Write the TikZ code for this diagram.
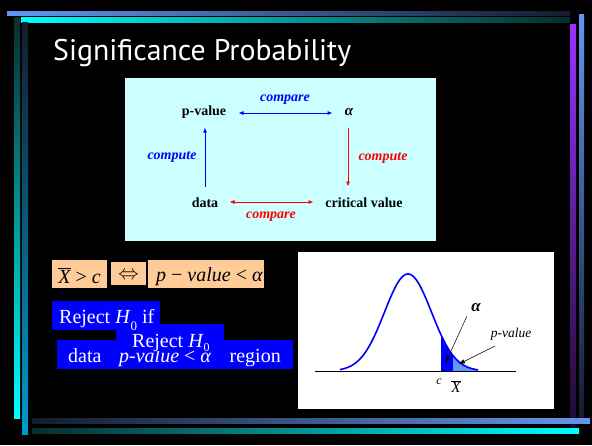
\documentclass[tikz,border=0pt]{standalone}
\usepackage{fontspec}
\setmainfont{Liberation Serif}
\newfontfamily\titlefont{PT Sans}
\usetikzlibrary{arrows.meta}
\definecolor{topblue}{RGB}{100,150,240}
\definecolor{barcyan}{RGB}{0,255,255}
\definecolor{panelcyan}{RGB}{204,255,255}
\definecolor{peach}{RGB}{255,204,153}
\definecolor{purplebar}{RGB}{153,51,255}
\definecolor{deepcyan}{RGB}{0,153,204}
\definecolor{lightfill}{RGB}{100,150,255}
\definecolor{pureblue}{RGB}{0,0,255}
\definecolor{purered}{RGB}{255,0,0}
\definecolor{darkteal}{RGB}{8,45,45}
\definecolor{darknavy}{RGB}{20,28,45}
\definecolor{darkpurple}{RGB}{30,10,45}
\newcommand{\subz}{\raisebox{-4.5pt}{\fontsize{12}{12}\selectfont 0}}
\begin{document}
\begin{tikzpicture}[x=1pt,y=-1pt,
  box/.style={anchor=north west, inner sep=0pt, outer sep=0pt, draw=none},
  lbl/.style={inner sep=0pt, font=\fontsize{14}{14}\selectfont\bfseries, anchor=base},
  cmp/.style={inner sep=0pt, font=\fontsize{14}{14}\selectfont\bfseries\itshape, anchor=base},
  big/.style={inner sep=0pt, font=\fontsize{20}{20}\selectfont, anchor=base},
  tipend/.style={-{Triangle[length=4.5pt,width=3.5pt]}},
  tipboth/.style={{Triangle[length=4.5pt,width=3.5pt]}-{Triangle[length=4.5pt,width=3.5pt]}},
  ptr/.style={-{Triangle[length=6pt,width=4pt]}, line width=0.5pt, black},
  bell/.style={pureblue, line width=1.6pt}
]
\fill[black] (0,0) rectangle (592,445);
\useasboundingbox (0,0) rectangle (592,445);
% decorative bars
\shade[left color=topblue, right color=darknavy] (7,11) rectangle (570,15);
\shade[left color=barcyan, right color=darkteal] (21,17) rectangle (570,22);
\shade[top color=darkteal, bottom color=barcyan] (14,17) rectangle (20,418);
\shade[top color=darknavy, bottom color=deepcyan] (22,22) rectangle (28,434);
\shade[top color=purplebar, bottom color=darkpurple] (570,24) rectangle (576,427);
\shade[top color=topblue, bottom color=darknavy] (579,14) rectangle (584,417);
\shade[left color=darknavy, right color=topblue] (32,418) rectangle (590,423);
\shade[left color=darkteal, right color=barcyan] (32,428) rectangle (579,433);
% title
\node[anchor=base west, inner sep=0pt, text=white] (title) at (53,60)
  {\resizebox{298pt}{!}{\titlefont Significance Probability}};
% cyan panel
\node[box, fill=panelcyan, minimum width=311pt, minimum height=163pt] (panel) at (125,78) {};
\node[lbl] (pv) at (204,115) {p-value};
\node[lbl, font=\fontsize{15}{15}\selectfont\bfseries\itshape] (al) at (349,115) {α};
\node[lbl] (data) at (205,207) {data};
\node[lbl] (cv) at (364,207) {critical value};
\node[cmp, text=pureblue] (cmp1) at (285,101) {compare};
\node[cmp, text=pureblue] (cpt1) at (172,159) {compute};
\node[cmp, text=purered] (cpt2) at (383,160) {compute};
\node[cmp, text=purered] (cmp2) at (271,218) {compare};
\coordinate (h1a) at (239,113);
\coordinate (h1b) at (332,113);
\coordinate (v1a) at (205,187);
\coordinate (v1b) at (205,128);
\coordinate (v2a) at (348,128);
\coordinate (v2b) at (348,186);
\coordinate (h2a) at (230,202);
\coordinate (h2b) at (313,202);
\draw[tipboth, pureblue, line width=0.6pt] (h1a) -- (h1b);
\draw[tipend, pureblue, line width=0.6pt] (v1a) -- (v1b);
\draw[tipend, purered, line width=0.6pt] (v2a) -- (v2b);
\draw[tipboth, purered, line width=0.6pt] (h2a) -- (h2b);
% orange boxes
\node[box, fill=peach, minimum width=55pt, minimum height=28pt] (ob1) at (52,260) {};
\node[box, fill=peach, minimum width=35pt, minimum height=23pt] (ob2) at (111,262) {};
\node[box, fill=peach, minimum width=116pt, minimum height=28pt] (ob3) at (148,260) {};
\node[big] (xgc) at (79.5,283) {$\overline{\mbox{\itshape X}}$ > \textit{c}};
\node[inner sep=0pt] (iff) at (128.5,275.5) {\fontsize{20}{20}\selectfont$\Leftrightarrow$};
\node[big, anchor=base west] (pva) at (156,281) {\textit{p} − \textit{value} < \textit{α}};
% blue boxes
\node[box, fill=pureblue, minimum width=236pt, minimum height=29pt] (db) at (57,339.5) {};
\node[big, anchor=base west, text=white] (dtxt) at (68,362) {data};
\node[big, anchor=base east, text=white] (rtxt) at (281,362) {region};
\node[box, fill=pureblue, minimum width=108pt, minimum height=28.5pt] (pb) at (116,339.5) {};
\node[big, anchor=base west, text=white] (ptxt) at (119,362) {\textit{p-value} < \textit{α}};
\node[box, fill=pureblue, minimum width=108pt, minimum height=27pt] (rb) at (116,324) {};
\node[big, anchor=base west, text=white] (rtx) at (132,347) {Reject \textit{H}\subz};
\begin{scope}
  \clip (52,301) rectangle (160,330);
  \node[box, fill=pureblue, minimum width=108pt, minimum height=29pt] (rib) at (52,301) {};
  \node[big, anchor=base west, text=white] (ritxt) at (59,323) {Reject \textit{H}\raisebox{-7pt}{\fontsize{13}{13}\selectfont 0} if};
\end{scope}
% graph panel
\node[box, fill=white, minimum width=256pt, minimum height=157pt] (gp) at (298,252) {};
\fill[pureblue] plot[domain=441:453, samples=30] (\x, {371-97*exp(-((\x-408)^2)/1104.5)}) -- (453,371) -- (441,371) -- cycle;
\fill[lightfill] plot[domain=453:478, samples=40] (\x, {371-97*exp(-((\x-408)^2)/1104.5)}) -- (478,371) -- (453,371) -- cycle;
\coordinate (ax1) at (315,371);
\coordinate (ax2) at (516,371);
\draw[line width=0.8pt, black] (ax1) -- (ax2);
\draw[bell] plot[domain=340:478, samples=140] (\x, {371-97*exp(-((\x-408)^2)/1104.5)});
\node[inner sep=0pt, anchor=base, font=\fontsize{17}{17}\selectfont\bfseries\itshape] (ga) at (476,311) {α};
\node[inner sep=0pt, anchor=base, font=\fontsize{13.5}{13.5}\selectfont\itshape] (gpv) at (511,337) {p-value};
\coordinate (aa1) at (467,316);
\coordinate (aa2) at (446,362);
\coordinate (pa1) at (495,346);
\coordinate (pa2) at (459,364);
\draw[ptr] (aa1) -- (aa2);
\draw[ptr] (pa1) -- (pa2);
\node[inner sep=0pt, anchor=base, font=\fontsize{12}{12}\selectfont\itshape] (gc) at (439,384) {c};
\node[inner sep=0pt, anchor=base, font=\fontsize{15}{15}\selectfont] (gx) at (456,392) {$\overline{\mbox{\itshape X}}$};
\end{tikzpicture}
\end{document}
